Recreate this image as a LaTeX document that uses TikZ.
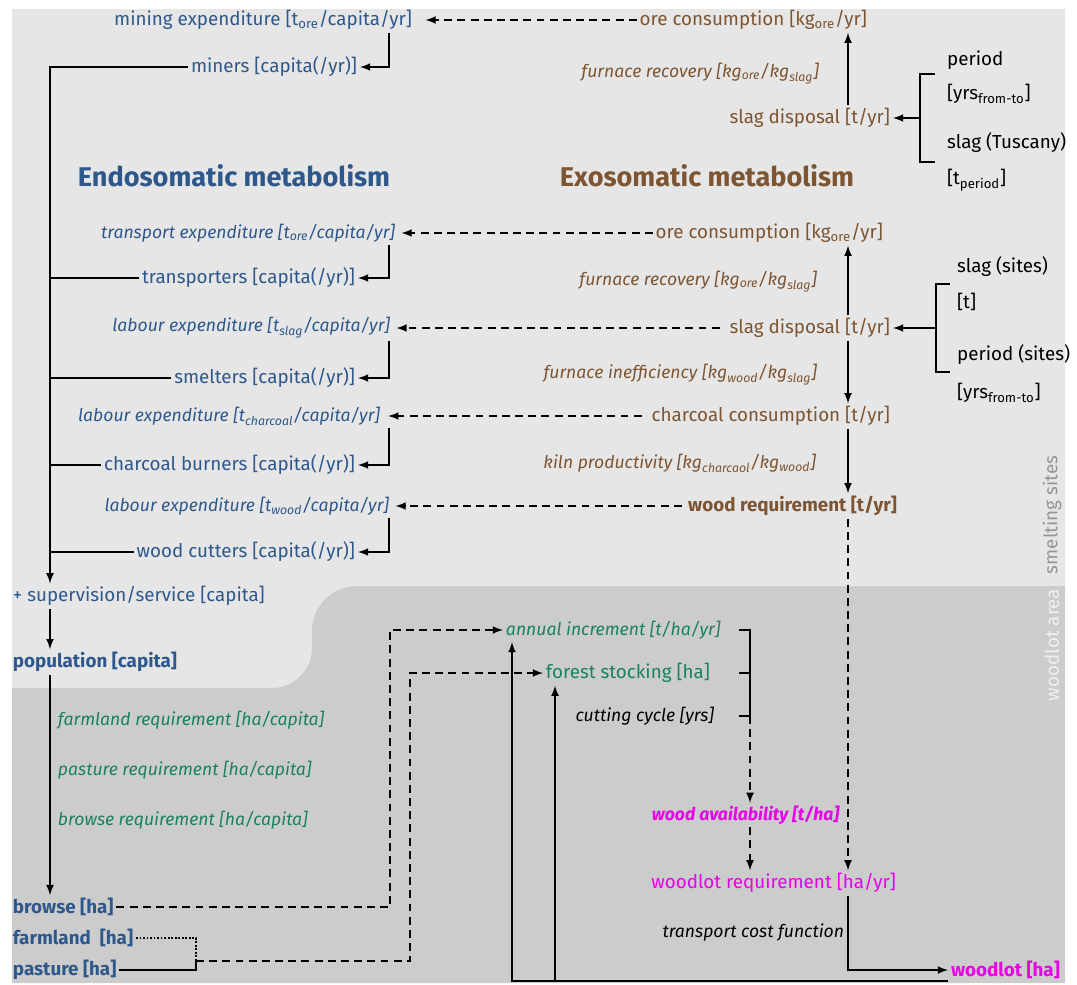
\documentclass[tikz,border=0pt]{standalone}
\usepackage{fontspec}
\setmainfont{Fira Sans}[Scale=1.07]
\usetikzlibrary{arrows,shapes}
\definecolor{endoblue}{RGB}{46,88,140}
\definecolor{exobrown}{RGB}{125,85,50}
\definecolor{landgreen}{RGB}{25,130,95}
\definecolor{woodpink}{RGB}{232,0,232}
\definecolor{smeltingbg}{RGB}{230,230,230}
\definecolor{woodlotbg}{RGB}{204,204,204}
\definecolor{zonegray}{RGB}{150,150,150}
\definecolor{zonewhite}{RGB}{240,240,240}
\tikzstyle{orientedarc}=[->,>=latex,line width=1pt]
\tikzstyle{flowarc}=[orientedarc,dash pattern=on 4.5pt off 3pt]
\tikzstyle{plainarc}=[line width=1pt]
\tikzstyle{quantity}=[inner sep=1.5pt]
\tikzstyle{endolabel}=[quantity,text=endoblue]
\tikzstyle{exolabel}=[quantity,text=exobrown]
\tikzstyle{landlabel}=[quantity,text=landgreen]
\tikzstyle{woodlabel}=[quantity,text=woodpink]
\tikzstyle{factor}=[font=\fontsize{9.35pt}{11pt}\selectfont\itshape]
\tikzstyle{stock}=[font=\bfseries]
\tikzstyle{sitelabel}=[anchor=west,inner sep=1pt]
\tikzstyle{zonelabel}=[rotate=90,font=\normalsize]
\tikzstyle{titlelabel}=[font=\Large\bfseries]

\begin{document}
\begin{tikzpicture}
\useasboundingbox (0cm,0cm) rectangle (21.54cm,-19.68cm);

% zones
\fill[smeltingbg] (0.24cm,-0.18cm) rectangle (21.3cm,-19.66cm);
\fill[woodlotbg] (21.3cm,-11.72cm) -- (7.14cm,-11.72cm) arc[start angle=90,end angle=180,radius=0.9cm] -- (6.24cm,-12.96cm) arc[start angle=0,end angle=-90,radius=0.8cm] -- (0.24cm,-13.76cm) -- (0.24cm,-19.66cm) -- (21.3cm,-19.66cm) -- cycle;
\node[zonelabel,text=zonegray] (Z1) at (21.04cm,-10.3cm) {smelting sites};
\node[zonelabel,text=zonewhite] (Z2) at (21.04cm,-12.9cm) {woodlot area};

\node[titlelabel,text=endoblue] (T1) at (4.68cm,-3.52cm) {Endosomatic metabolism};
\node[titlelabel,text=exobrown] (T2) at (14.14cm,-3.52cm) {Exosomatic metabolism};

% endosomatic metabolism
\node[endolabel,anchor=east] (MINEXP) at (8.3cm,-0.4cm) {mining expenditure [t\textsubscript{ore}/capita/yr]};
\node[endolabel,anchor=east] (MINERS) at (7.2cm,-1.34cm) {miners [capita(/yr)]};
\node[endolabel,factor,anchor=east] (TRAEXP) at (7.96cm,-4.66cm) {transport expenditure [t\textsubscript{ore}/capita/yr]};
\node[endolabel,anchor=east] (TRANSP) at (7.16cm,-5.56cm) {transporters [capita(/yr)]};
\node[endolabel,factor,anchor=east] (SLAGEXP) at (7.86cm,-6.56cm) {labour expenditure [t\textsubscript{slag}/capita/yr]};
\node[endolabel,anchor=east] (SMELT) at (7.16cm,-7.56cm) {smelters [capita(/yr)]};
\node[endolabel,factor,anchor=east] (CHAREXP) at (7.66cm,-8.32cm) {labour expenditure [t\textsubscript{charcoal}/capita/yr]};
\node[endolabel,anchor=east] (BURN) at (7.16cm,-9.3cm) {charcoal burners [capita(/yr)]};
\node[endolabel,factor,anchor=east] (WOODEXP) at (7.84cm,-10.12cm) {labour expenditure [t\textsubscript{wood}/capita/yr]};
\node[endolabel,anchor=east] (CUT) at (7.16cm,-11.04cm) {wood cutters [capita(/yr)]};
\node[endolabel,anchor=west] (SERV) at (0.2cm,-11.92cm) {+ supervision/service [capita]};
\node[endolabel,stock,anchor=west] (POP) at (0.2cm,-13.24cm) {population [capita]};

% exosomatic metabolism
\node[exolabel,anchor=east] (ORE1) at (17.4cm,-0.4cm) {ore consumption [kg\textsubscript{ore}/yr]};
\node[exolabel,factor,anchor=east] (REC1) at (16.44cm,-1.48cm) {furnace recovery [kg\textsubscript{ore}/kg\textsubscript{slag}]};
\node[exolabel,anchor=east] (SLAG1) at (17.86cm,-2.36cm) {slag disposal [t/yr]};
\node[exolabel,anchor=east] (ORE2) at (17.72cm,-4.66cm) {ore consumption [kg\textsubscript{ore}/yr]};
\node[exolabel,factor,anchor=east] (REC2) at (16.4cm,-5.64cm) {furnace recovery [kg\textsubscript{ore}/kg\textsubscript{slag}]};
\node[exolabel,anchor=east] (SLAG2) at (17.86cm,-6.56cm) {slag disposal [t/yr]};
\node[exolabel,factor,anchor=east] (INEF) at (16.4cm,-7.5cm) {furnace inefficiency [kg\textsubscript{wood}/kg\textsubscript{slag}]};
\node[exolabel,anchor=east] (CHAR) at (17.86cm,-8.32cm) {charcoal consumption [t/yr]};
\node[exolabel,factor,anchor=east] (KILN) at (16.38cm,-9.26cm) {kiln productivity [kg\textsubscript{charcaol}/kg\textsubscript{wood}]};
\node[exolabel,stock,anchor=east] (WOOD) at (18cm,-10.12cm) {wood requirement [t/yr]};

% site data
\node[sitelabel] (P1) at (18.9cm,-1.2cm) {period};
\node[sitelabel] (P2) at (18.9cm,-1.88cm) {[yrs\textsubscript{from-to}]};
\node[sitelabel] (P3) at (18.9cm,-2.86cm) {slag (Tuscany)};
\node[sitelabel] (P4) at (18.9cm,-3.6cm) {[t\textsubscript{period}]};
\node[sitelabel] (Q1) at (19.1cm,-5.34cm) {slag (sites)};
\node[sitelabel] (Q2) at (19.1cm,-6.04cm) {[t]};
\node[sitelabel] (Q3) at (19.1cm,-7.1cm) {period (sites)};
\node[sitelabel] (Q4) at (19.1cm,-7.86cm) {[yrs\textsubscript{from-to}]};

% land use
\node[landlabel,factor,anchor=west] (FARMREQ) at (1.1cm,-14.4cm) {farmland requirement [ha/capita]};
\node[landlabel,factor,anchor=west] (PASTREQ) at (1.1cm,-15.4cm) {pasture requirement [ha/capita]};
\node[landlabel,factor,anchor=west] (BROWREQ) at (1.1cm,-16.4cm) {browse requirement [ha/capita]};
\node[endolabel,stock,anchor=west] (BROWSE) at (0.2cm,-18.14cm) {browse [ha]};
\node[endolabel,stock,anchor=west] (FARM) at (0.2cm,-18.76cm) {farmland~ [ha]};
\node[endolabel,stock,anchor=west] (PAST) at (0.2cm,-19.4cm) {pasture [ha]};
\node[landlabel,factor,anchor=west] (INCR) at (10.06cm,-12.6cm) {annual increment [t/ha/yr]};
\node[landlabel,anchor=west] (STOCK) at (10.86cm,-13.46cm) {forest stocking [ha]};
\node[quantity,factor,anchor=east] (CYCLE) at (14.34cm,-14.32cm) {cutting cycle [yrs]};

% woodlot
\node[woodlabel,font=\fontsize{9.35pt}{11pt}\selectfont\bfseries\itshape,anchor=east] (AVAIL) at (16.84cm,-16.3cm) {wood availability [t/ha]};
\node[woodlabel,anchor=east] (WLREQ) at (17.98cm,-17.66cm) {woodlot requirement [ha/yr]};
\node[quantity,factor,anchor=east] (TCOST) at (16.94cm,-18.66cm) {transport cost function};
\node[woodlabel,stock,anchor=west] (WOODLOT) at (18.96cm,-19.4cm) {woodlot [ha]};

\coordinate (LT) at (1cm,0cm);
\coordinate (LB) at (7.78cm,0cm);
\coordinate (V) at (16.96cm,0cm);
\coordinate (B1) at (18.4cm,-2.36cm);
\coordinate (B1a) at (18.7cm,-1.48cm);
\coordinate (B1b) at (18.7cm,-3.24cm);
\coordinate (B2) at (18.72cm,-6.56cm);
\coordinate (B2a) at (19cm,-5.68cm);
\coordinate (B2b) at (19cm,-7.44cm);
\coordinate (W1) at (7.8cm,0cm);
\coordinate (W2) at (8.2cm,0cm);
\coordinate (J1) at (3.92cm,-19.22cm);
\coordinate (K0) at (14.78cm,0cm);
\coordinate (K1) at (15cm,0cm);
\coordinate (U1) at (10.24cm,0cm);
\coordinate (U2) at (11.1cm,0cm);
\coordinate (G0) at (0cm,-19.62cm);

% labour flows
\draw[flowarc] (ORE1.west) -- ([xshift=6pt]MINEXP.east);
\draw[flowarc] (ORE2.west) -- ([xshift=2pt]TRAEXP.east);
\draw[flowarc] ([xshift=-4pt]SLAG2.west) -- ([xshift=2pt]SLAGEXP.east);
\draw[flowarc] ([xshift=-4pt]CHAR.west) -- ([xshift=3pt]CHAREXP.east);
\draw[flowarc] ([xshift=-2pt]WOOD.west) -- ([xshift=2pt]WOODEXP.east);

\draw[orientedarc] (MINEXP.south -| LB) |- (MINERS.east);
\draw[orientedarc] (TRAEXP.south -| LB) |- (TRANSP.east);
\draw[orientedarc] (SLAGEXP.south -| LB) |- (SMELT.east);
\draw[orientedarc] (CHAREXP.south -| LB) |- (BURN.east);
\draw[orientedarc] (WOODEXP.south -| LB) |- (CUT.east);

\draw[orientedarc] (MINERS.west) -| (SERV.north -| LT);
\draw[plainarc] (TRANSP.west) -- (TRANSP.west -| LT);
\draw[plainarc] (SMELT.west) -- (SMELT.west -| LT);
\draw[plainarc] (BURN.west) -- (BURN.west -| LT);
\draw[plainarc] (CUT.west) -- (CUT.west -| LT);
\draw[orientedarc] (SERV.south -| LT) -- (POP.north -| LT);
\draw[orientedarc] (POP.south -| LT) -- (BROWSE.north -| LT);

% material flows
\draw[orientedarc] (SLAG1.north -| V) -- (ORE1.south -| V);
\draw[orientedarc] (SLAG2.north -| V) -- (ORE2.south -| V);
\draw[orientedarc] (SLAG2.south -| V) -- (CHAR.north -| V);
\draw[orientedarc] (CHAR.south -| V) -- (WOOD.north -| V);
\draw[flowarc] (WOOD.south -| V) -- (WLREQ.north -| V);

\draw[plainarc] (B1a) -- (B1a -| B1) -- (B1b -| B1) -- (B1b);
\draw[orientedarc] (B1) -- (SLAG1.east);
\draw[plainarc] (B2a) -- (B2a -| B2) -- (B2b -| B2) -- (B2b);
\draw[orientedarc] (B2) -- (SLAG2.east);

% land flows
\draw[flowarc] (BROWSE.east) -| (W1 |- INCR.west) -- (INCR.west);
\draw[plainarc,densely dotted,line width=0.8pt] (FARM.east) -| (J1);
\draw[plainarc] (PAST.east) -| (J1);
\draw[flowarc] (J1) -| (W2 |- STOCK.west) -- (STOCK.west);

\draw[plainarc] (INCR.east -| K0) -- (INCR.east -| K1) -- (CYCLE.east -| K1);
\draw[plainarc] (STOCK.east -| K0) -- (STOCK.east -| K1);
\draw[plainarc] (CYCLE.east -| K0) -- (CYCLE.east -| K1);
\draw[flowarc] (CYCLE.east -| K1) -- (AVAIL.north -| K1);
\draw[flowarc] (AVAIL.south -| K1) -- (WLREQ.north -| K1);

\draw[orientedarc] (WLREQ.south -| V) |- (WOODLOT.west);
\draw[orientedarc] (WOODLOT.west |- G0) -| (INCR.south -| U1);
\draw[orientedarc] (G0 -| U2) -- (STOCK.south -| U2);

\end{tikzpicture}
\end{document}
